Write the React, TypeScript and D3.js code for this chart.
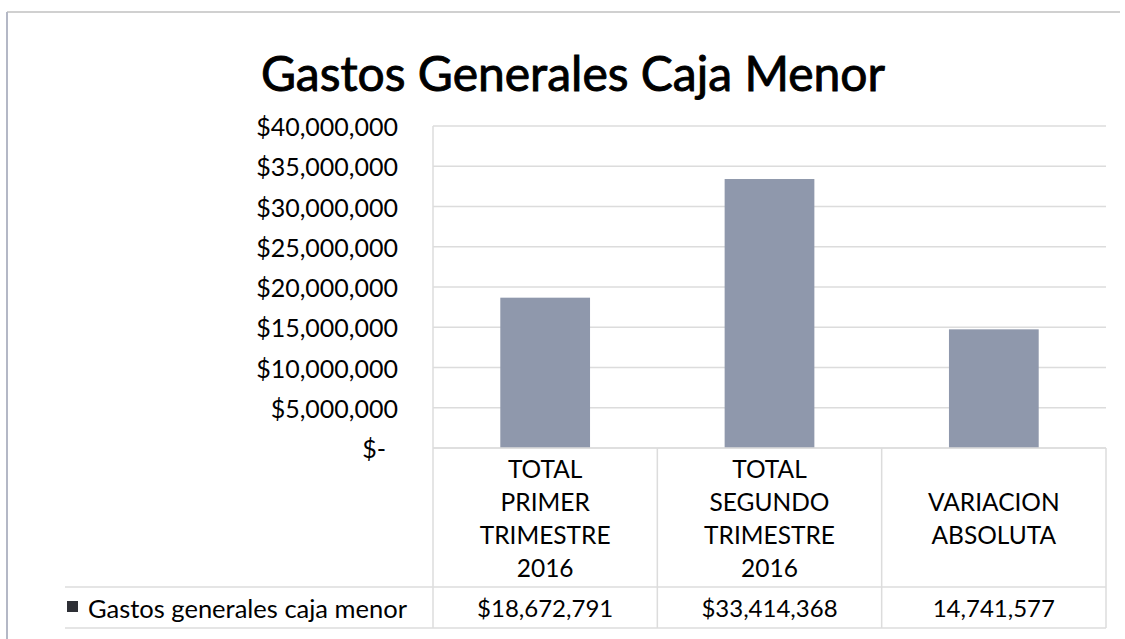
import * as d3 from "d3";

const categories = [
  ["TOTAL", "PRIMER", "TRIMESTRE", "2016"],
  ["TOTAL", "SEGUNDO", "TRIMESTRE", "2016"],
  ["VARIACION", "ABSOLUTA"],
];
const values = [18672791, 33414368, 14741577];
const valueLabels = ["$18,672,791", "$33,414,368", "14,741,577"];
const seriesName = "Gastos generales caja menor";
const yTicks = [0, 5000000, 10000000, 15000000, 20000000, 25000000, 30000000, 35000000, 40000000];

const W = 1125;
const H = 639;
const font = "Lato, 'Open Sans', sans-serif";
const barColor = "#8f98ac";
const gridColor = "#dcdcdc";

export default function App() {
  const left = 433;
  const right = 1106;
  const top = 126;
  const bottom = 448;
  const rowTop = 587;
  const rowBottom = 628;
  const legendLeft = 65;

  const idx = values.map((_, i) => String(i));
  const x = d3.scaleBand().domain(idx).range([left, right]).paddingInner(0.6).paddingOuter(0.3);
  const cell = d3.scaleBand().domain(idx).range([left, right]).padding(0);
  const y = d3.scaleLinear().domain([0, 40000000]).range([bottom, top]);
  const fmt = d3.format("$,");
  const lineH = 33;
  const headMid = (bottom + rowTop) / 2;

  return (
    <svg width={W} height={H} style={{ position: "absolute", left: 0, top: 0, background: "#fff" }} fontFamily={font}>
      <line x1={7} x2={1120} y1={12} y2={12} stroke="#d0d0d0" strokeWidth={2} />
      <line x1={7} x2={7} y1={12} y2={H} stroke="#b4b8c6" strokeWidth={2} />

      <text
        x={573}
        y={72}
        textAnchor="middle"
        dominantBaseline="central"
        fontSize={48}
        fill="#000"
        stroke="#000"
        strokeWidth={0.9}
      >
        Gastos Generales Caja Menor
      </text>

      {yTicks.map((t) => (
        <g key={t}>
          <line x1={left} x2={right} y1={y(t)} y2={y(t)} stroke={gridColor} strokeWidth={1.5} />
          <text
            x={t === 0 ? 386 : 398}
            y={y(t)}
            textAnchor="end"
            dominantBaseline="central"
            fontSize={25}
            fill="#000"
          >
            {t === 0 ? "$-" : fmt(t)}
          </text>
        </g>
      ))}
      <line x1={left} x2={left} y1={top} y2={bottom} stroke={gridColor} strokeWidth={1.5} />

      {values.map((v, i) => (
        <rect key={i} x={x(String(i))} y={y(v)} width={x.bandwidth()} height={y(0) - y(v)} fill={barColor} />
      ))}

      {/* data table */}
      <line x1={left} x2={right} y1={bottom} y2={bottom} stroke={gridColor} strokeWidth={1.5} />
      <line x1={legendLeft} x2={right} y1={rowTop} y2={rowTop} stroke={gridColor} strokeWidth={1.5} />
      <line x1={legendLeft} x2={right} y1={rowBottom} y2={rowBottom} stroke={gridColor} strokeWidth={1.5} />
      {idx.concat(["end"]).map((k, i) => {
        const xx = i < 3 ? cell(k)! : right;
        return <line key={k} x1={xx} x2={xx} y1={bottom} y2={rowBottom} stroke={gridColor} strokeWidth={1.5} />;
      })}
      {categories.map((lines, i) => {
        const cx = cell(String(i))! + cell.bandwidth() / 2;
        const start = headMid - ((lines.length - 1) * lineH) / 2;
        return (
          <g key={i}>
            {lines.map((l, j) => (
              <text key={j} x={cx} y={start + j * lineH} textAnchor="middle" dominantBaseline="central" fontSize={24.5} fill="#000">
                {l}
              </text>
            ))}
            <text x={cx} y={(rowTop + rowBottom) / 2} textAnchor="middle" dominantBaseline="central" fontSize={24} fill="#000">
              {valueLabels[i]}
            </text>
          </g>
        );
      })}
      <rect x={67} y={601} width={11} height={11} fill="#2e3036" />
      <text x={88} y={(rowTop + rowBottom) / 2} dominantBaseline="central" fontSize={25.5} fill="#000">
        {seriesName}
      </text>
    </svg>
  );
}
